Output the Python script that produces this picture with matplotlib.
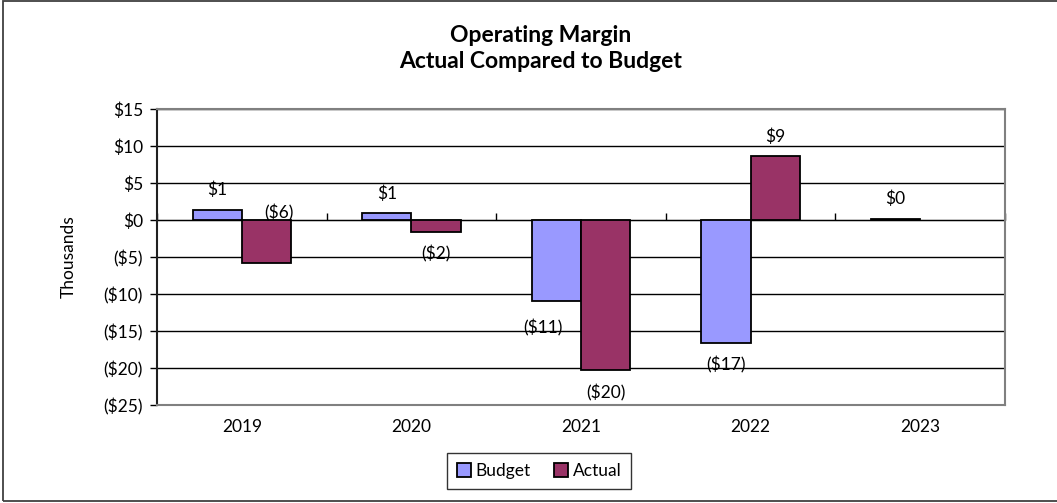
import matplotlib
matplotlib.use("Agg")
import matplotlib.pyplot as plt
from matplotlib.patches import Rectangle
import numpy as np

plt.rcParams['font.family'] = ['Lato', 'DejaVu Sans']

categories = ["2019", "2020", "2021", "2022", "2023"]
budget = [1.4, 0.9, -11.0, -16.6, 0.2]
actual = [-5.8, -1.6, -20.3, 8.6, np.nan]
budget_labels = ["$1", "$1", "($11)", "($17)", "$0"]
actual_labels = ["($6)", "($2)", "($20)", "$9", None]
yticks = [-25, -20, -15, -10, -5, 0, 5, 10, 15]
ytick_labels = ["($25)", "($20)", "($15)", "($10)", "($5)", "$0", "$5", "$10", "$15"]

# label offsets in points (dx, dy) relative to bar end
budget_offsets = [(0, 14), (0, 14), (-10, -19), (0, -16), (0, 14)]
actual_offsets = [(9, 36), (0, -16), (0, -16), (0, 14), None]

FS = 12.5
W, H = 1057, 503
fig = plt.figure(figsize=(W / 100, H / 100), dpi=100)
ax = fig.add_axes([157 / W, 1 - 405 / H, (1005 - 157) / W, (405 - 109) / H])

x = np.arange(len(categories))
bw = 0.29
c_budget = "#9999FF"
c_actual = "#993366"

bars_b = ax.bar(x - bw / 2, budget, bw, color=c_budget, edgecolor="black", linewidth=1.3,
                label="Budget", zorder=3)
bars_a = ax.bar(x + bw / 2, actual, bw, color=c_actual, edgecolor="black", linewidth=1.3,
                label="Actual", zorder=3)
# the 2023 budget bar appears as a thick black line
bars_b[4].set_facecolor("black")

for i, (v, lab, off) in enumerate(zip(budget, budget_labels, budget_offsets)):
    ax.annotate(lab, (x[i] - bw / 2, v), xytext=off, textcoords="offset points",
                ha="center", va="center", fontsize=FS, zorder=5)
for i, (v, lab, off) in enumerate(zip(actual, actual_labels, actual_offsets)):
    if lab is None:
        continue
    ax.annotate(lab, (x[i] + bw / 2, v), xytext=off, textcoords="offset points",
                ha="center", va="center", fontsize=FS, zorder=5)

ax.set_xlim(-0.5, len(categories) - 0.5)
ax.set_ylim(-25, 15)
ax.set_yticks(yticks)
ax.set_yticklabels(ytick_labels, fontsize=FS)
ax.yaxis.grid(True, color="black", linewidth=1.0)
ax.set_axisbelow(True)
ax.tick_params(axis="y", direction="out", length=5, width=1, pad=5, colors="black")

ax.set_xticks(x)
ax.set_xticklabels(categories, fontsize=FS)
ax.tick_params(axis="x", length=0, pad=10)

for s in ["top", "right", "bottom"]:
    ax.spines[s].set_color("#808080")
    ax.spines[s].set_linewidth(1.5)
ax.spines["left"].set_color("#202020")
ax.spines["left"].set_linewidth(1.5)

# category boundary ticks on the zero line
sec = ax.secondary_xaxis(25 / 40)
sec.set_xticks(np.arange(len(categories) + 1) - 0.5)
sec.set_xticklabels([])
sec.tick_params(direction="out", length=5, width=1, colors="black")
sec.spines["bottom"].set_color("black")
sec.spines["bottom"].set_linewidth(1.0)

ax.set_ylabel("Thousands", fontsize=12.5, labelpad=19)

fig.text(0.511, 1 - 35 / H, "Operating Margin", ha="center", va="center",
         fontsize=16.5, fontweight="bold")
fig.text(0.511, 1 - 62 / H, "Actual Compared to Budget", ha="center", va="center",
         fontsize=16.5, fontweight="bold")

leg = fig.legend(handles=[bars_b, bars_a], labels=["Budget", "Actual"], loc="center",
                 bbox_to_anchor=(539 / W, 1 - 471 / H), ncol=2, frameon=True,
                 fancybox=False, edgecolor="black", fontsize=FS, handlelength=0.8,
                 handleheight=0.8, handletextpad=0.25, columnspacing=1.4,
                 borderpad=0.55)
leg.get_frame().set_linewidth(1.0)
leg.legend_handles[0].set_facecolor(c_budget)

fig.patches.append(Rectangle((3 / W, 2 / H), 1.0, 1 - 3 / H, transform=fig.transFigure,
                             fill=False, edgecolor="#404040", linewidth=1.3))

fig.savefig("out.png", dpi=100)
